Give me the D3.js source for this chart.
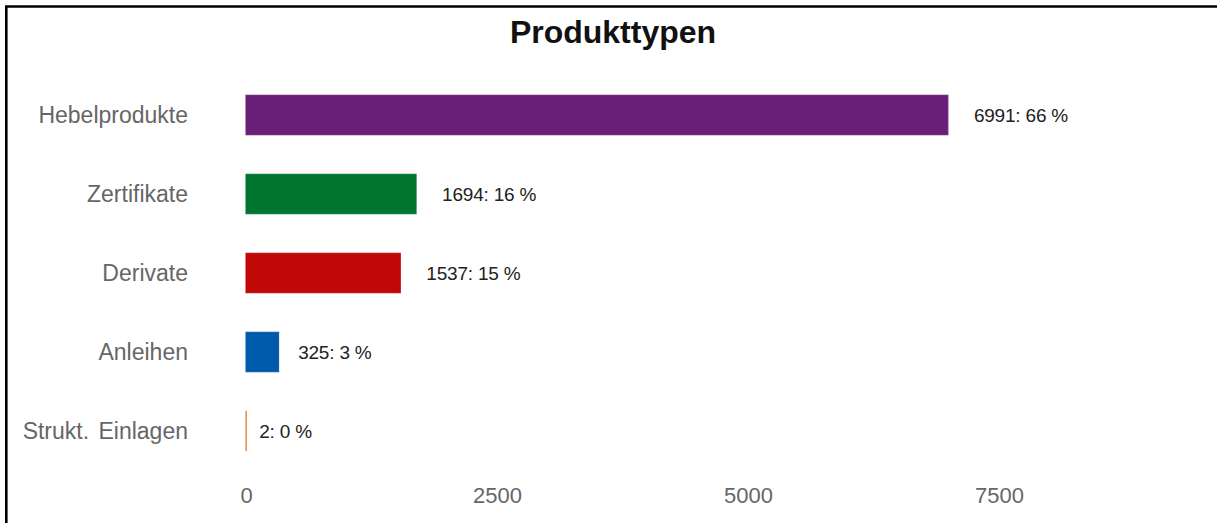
<!DOCTYPE html>
<html>
<head>
<meta charset="utf-8">
<script src="https://cdn.jsdelivr.net/npm/d3@7"></script>
<style>
    body { margin: 0; background: #fff; }
    svg { display: block; }
</style>
</head>
<body>
<div id="chart"></div>
<script>
// chart data
const categories = ["Hebelprodukte", "Zertifikate", "Derivate", "Anleihen", "Strukt. Einlagen"];
const counts = [6991, 1694, 1537, 325, 2];
const shares = [66, 16, 15, 3, 0];
const barColors = ["#6a1f77", "#00752f", "#c00808", "#005aac", "#ec7020"];
const tickValues = [0, 2500, 5000, 7500];

const width = 1217;
const height = 523;

const svg = d3.select("#chart")
    .append("svg")
    .attr("width", width)
    .attr("height", height);

// frame: only the top and left edges show in the crop
svg.append("path")
    .attr("d", "M6.3," + height + "V6.5H" + width)
    .attr("fill", "none")
    .attr("stroke", "#000")
    .attr("stroke-width", 2.6);

svg.append("text")
    .attr("x", 613)
    .attr("y", 43)
    .attr("text-anchor", "middle")
    .style("font-family", "'Liberation Sans', Arial, sans-serif")
    .style("font-weight", "bold")
    .style("font-size", "32px")
    .style("fill", "#111")
    .text("Produkttypen");

const x = d3.scaleLinear()
    .domain([0, 10000])
    .range([246, 1250]);

const y = d3.scaleBand()
    .domain(categories)
    .range([75.5, 470.5])
    .paddingInner(0.5)
    .paddingOuter(0.25);

const rows = categories.map((c, i) => ({
    name: c,
    value: counts[i],
    share: shares[i],
    color: barColors[i]
}));

// bars
svg.selectAll("rect.bar")
    .data(rows)
    .enter().append("rect")
    .attr("class", "bar")
    .attr("x", x(0))
    .attr("y", d => y(d.name))
    .attr("width", d => x(d.value) - x(0))
    .attr("height", y.bandwidth())
    .attr("fill", d => d.color)
    .attr("stroke", d => d.color)
    .attr("stroke-width", 1);

// value labels right of the bars
svg.selectAll("text.value-label")
    .data(rows)
    .enter().append("text")
    .attr("class", "value-label")
    .attr("x", d => {
        const w = x(d.value) - x(0);
        return x(d.value) + Math.min(26, 13 + w * 0.2);
    })
    .attr("y", d => y(d.name) + y.bandwidth() / 2)
    .attr("dy", "0.36em")
    .style("font-family", "'Liberation Sans', Arial, sans-serif")
    .style("font-size", "19px")
    .style("letter-spacing", "-0.2px")
    .style("fill", "#222")
    .text(d => d.value + ": " + d.share + " %");

// category labels
svg.selectAll("text.cat-label")
    .data(rows)
    .enter().append("text")
    .attr("class", "cat-label")
    .attr("x", 188)
    .attr("y", d => y(d.name) + y.bandwidth() / 2)
    .attr("dy", "0.36em")
    .attr("text-anchor", "end")
    .style("font-family", "'Liberation Sans', Arial, sans-serif")
    .style("font-size", "23px")
    .style("word-spacing", "3px")
    .style("fill", "#666")
    .text(d => d.name);

// x axis, labels only
const xAxis = svg.append("g")
    .attr("transform", "translate(0,487)")
    .call(d3.axisBottom(x).tickValues(tickValues).tickFormat(d3.format("d")).tickSize(0).tickPadding(0));

xAxis.select(".domain").remove();
xAxis.selectAll("text")
    .attr("dy", "0.71em")
    .style("font-family", "'Liberation Sans', Arial, sans-serif")
    .style("font-size", "22px")
    .style("fill", "#666");
</script>
</body>
</html>
